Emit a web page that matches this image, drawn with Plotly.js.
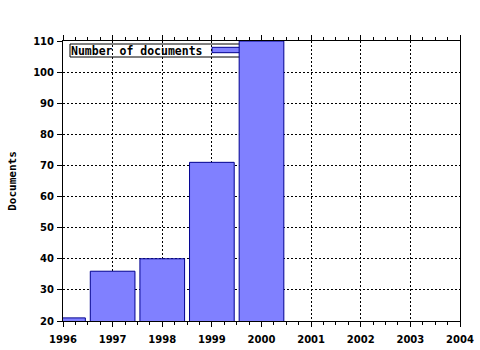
<!DOCTYPE html>
<html>
<head>
<meta charset="utf-8">
<script src="https://cdn.plot.ly/plotly-3.0.1.min.js"></script>
<style>html,body{margin:0;padding:0;background:#fff;}#chart{width:480px;height:350px;}</style>
</head>
<body>
<div id="chart"></div>
<script>
var years = [1996, 1997, 1998, 1999, 2000];
var documents = [21, 36, 40, 71, 110];
var seriesName = 'Number of documents';
var yTitle = 'Documents';

var tickFont = {family: 'DejaVu Sans', size: 10, color: '#000', weight: 'bold'};
var monoFont = {family: 'DejaVu Sans Mono', size: 11.5, color: '#000', weight: 'bold'};

var trace = {
  type: 'bar',
  x: years,
  y: documents,
  width: 0.9,
  name: seriesName,
  marker: {color: '#8080ff', line: {color: '#000090', width: 1}},
  showlegend: false,
  hoverinfo: 'x+y'
};

var L = 63, R = 20, T = 41, B = 29, W = 480, H = 350;
var pw = W - L - R, ph = H - T - B;
function px(v){ return (v - L) / pw; }
function py(v){ return (H - B - v) / ph; }

var layout = {
  width: W, height: H,
  margin: {l: L, r: R, t: T, b: B, pad: 0},
  paper_bgcolor: '#fff',
  plot_bgcolor: '#fff',
  xaxis: {
    range: [1996, 2004],
    dtick: 1, tick0: 1996,
    showline: true, linecolor: '#000', linewidth: 1,
    mirror: 'ticks',
    ticks: 'outside', ticklen: 5, tickcolor: '#000', tickwidth: 1,
    ticklabelstandoff: 4,
    minor: {dtick: 0.25, ticks: 'outside', ticklen: 3, tickcolor: '#000', showgrid: false},
    showgrid: true, gridcolor: '#000', gridwidth: 1, griddash: '2px,2px',
    zeroline: false,
    tickfont: tickFont,
    fixedrange: true
  },
  yaxis: {
    range: [20, 110],
    dtick: 10, tick0: 20,
    showline: true, linecolor: '#000', linewidth: 1,
    mirror: true,
    ticks: 'outside', ticklen: 5, tickcolor: '#000', tickwidth: 1,
    ticklabelstandoff: 1,
    showgrid: true, gridcolor: '#000', gridwidth: 1, griddash: '2px,2px',
    zeroline: false,
    tickfont: tickFont,
    title: {text: yTitle, font: {family: 'DejaVu Sans Mono', size: 11, color: '#000', weight: 'bold'}, standoff: 14},
    fixedrange: true
  },
  shapes: [
    {type: 'rect', xref: 'paper', yref: 'paper', layer: 'between',
     x0: px(70), x1: px(250), y0: py(57), y1: py(44),
     fillcolor: '#fff', line: {color: '#000', width: 1}},
    {type: 'rect', xref: 'paper', yref: 'paper', layer: 'between',
     x0: px(212), x1: px(250), y0: py(52.7), y1: py(47.3),
     fillcolor: '#8080ff', line: {color: '#000090', width: 1}}
  ],
  annotations: [
    {xref: 'paper', yref: 'paper', x: px(70), y: py(50.5), xanchor: 'left', yanchor: 'middle',
     text: seriesName, showarrow: false, font: monoFont, borderpad: 0}
  ]
};

Plotly.newPlot('chart', [trace], layout, {displayModeBar: false, staticPlot: true});
</script>
</body>
</html>
